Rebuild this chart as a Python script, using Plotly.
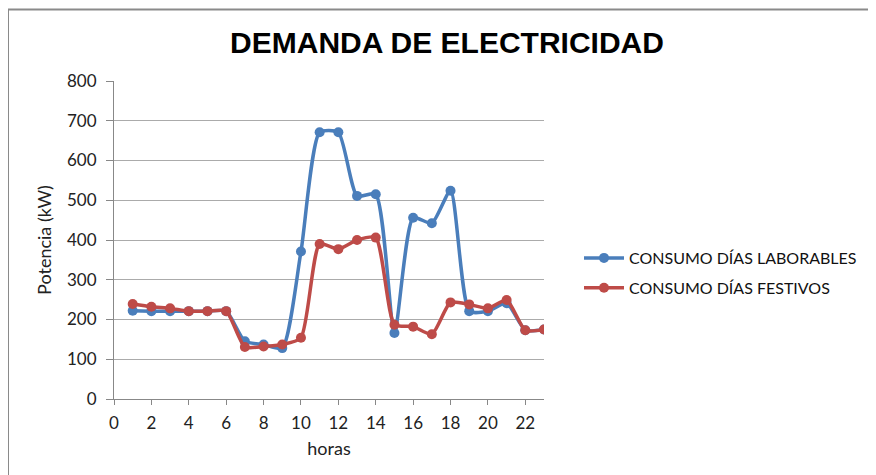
import plotly.graph_objects as go

horas = list(range(1, 24))
laborables = [222, 221, 221, 221, 221, 221, 145, 137, 128, 371, 671, 671, 511, 515,
              166, 456, 442, 524, 221, 221, 241, 173, 175]
festivos = [239, 232, 228, 221, 221, 221, 131, 132, 137, 154, 390, 377, 400, 406,
            187, 182, 163, 243, 238, 228, 249, 173, 175]
x_ticks = list(range(0, 24, 2))
y_ticks = list(range(0, 900, 100))

font_main = "Lato, 'Open Sans', sans-serif"

fig = go.Figure()
fig.add_trace(go.Scatter(
    x=horas, y=laborables, name="CONSUMO DÍAS LABORABLES", legendgroup="a",
    mode="lines+markers", line=dict(color="#4A7EBB", width=3.5, shape="spline", smoothing=0.6),
    marker=dict(size=10, color="#4A7EBB")))
fig.add_trace(go.Scatter(
    x=horas, y=festivos, name="CONSUMO DÍAS FESTIVOS", legendgroup="b",
    mode="lines+markers", line=dict(color="#BE4B48", width=3.5, shape="spline", smoothing=0.6),
    marker=dict(size=10, color="#BE4B48")))

# page has an 8px body margin: target coordinates are shifted by OFF
OFF = 8
W, H = 876 - OFF, 475 - OFF
L, T = 114 - OFF, 81 - OFF
pw, ph = 430, 318
R, B = W - L - pw, H - T - ph
y0px = 399 - OFF  # pixel row of value 0 in figure coords

fig.update_layout(
    width=W, height=H,
    margin=dict(l=L, r=R, t=T, b=B, autoexpand=False),
    paper_bgcolor="white", plot_bgcolor="white",
    font=dict(family=font_main, size=15, color="#222"),
    title=dict(text="<b>DEMANDA DE ELECTRICIDAD</b>", x=(447 - OFF) / W, xanchor="center",
               y=1 - (42 - OFF) / H, yanchor="middle",
               font=dict(family="'Liberation Sans', Arial, sans-serif", size=30, color="black")),
    xaxis=dict(range=[0, 23], tickvals=x_ticks, ticks="outside", ticklen=5, tickcolor="#888",
               showline=True, linecolor="#888", linewidth=1, showgrid=False, zeroline=False,
               ticklabelstandoff=4,
               title=dict(text="horas", font=dict(size=18), standoff=9),
               tickfont=dict(size=17, color="#222")),
    yaxis=dict(range=[0, 800], tickvals=y_ticks, ticks="outside", ticklen=7, tickcolor="#888",
               showline=True, linecolor="#888", linewidth=1, showgrid=True, gridcolor="#ababab",
               gridwidth=1, zeroline=False,
               ticklabelstandoff=6,
               title=dict(text="Potencia (kW)", font=dict(size=18), standoff=10),
               tickfont=dict(size=17, color="#222")),
    legend=dict(x=(579 - OFF - L) / pw, y=(y0px - 241 + OFF) / ph, xanchor="left", yanchor="top",
                font=dict(size=16, color="#111"), bgcolor="rgba(0,0,0,0)",
                traceorder="grouped", tracegroupgap=6, itemwidth=40),
    showlegend=True,
)

# outer chart border (left and top visible)
fig.add_shape(type="rect", xref="paper", yref="paper",
              x0=(8 - OFF - L) / pw, x1=(W + 20 - L) / pw,
              y0=(y0px - (H + 20)) / ph, y1=(y0px - (9.5 - OFF)) / ph,
              line=dict(color="#8a8a8a", width=2), layer="below")

fig.write_html("out.html")
